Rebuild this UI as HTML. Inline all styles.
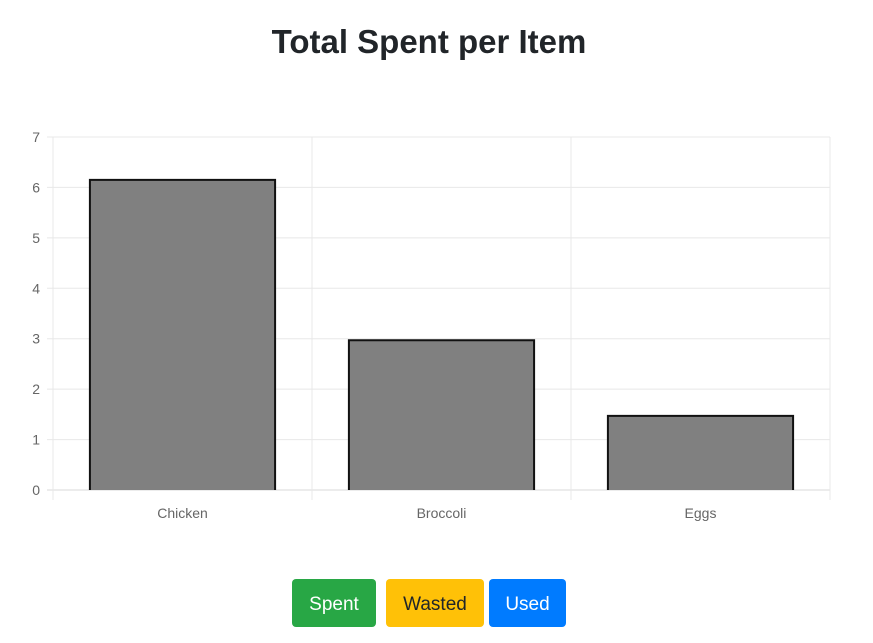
<!DOCTYPE html>
<html><head><meta charset="utf-8"><style>
body{margin:0;width:873px;height:643px;background:#fff;font-family:"Liberation Sans",sans-serif;overflow:hidden;position:relative}
h1{position:absolute;top:23px;left:0;width:858px;text-align:center;margin:0;font-size:33px;font-weight:600;color:#212529}
.btn{position:absolute;top:579px;height:48px;line-height:52px;border-radius:4px;font-size:19px;text-align:center;color:#fff}
</style></head><body>
<h1>Total Spent per Item</h1>
<svg id="c" width="873" height="560" style="position:absolute;left:0;top:0"></svg>
<div class="btn" style="left:292px;width:84px;background:#28a745">Spent</div>
<div class="btn" style="left:386px;width:98px;background:#ffc107;color:#212529">Wasted</div>
<div class="btn" style="left:489px;width:77px;background:#007bff">Used</div>
<script>
const categories=["Chicken","Broccoli","Eggs"];
const values=[6.15,2.97,1.47];
const yTicks=[0,1,2,3,4,5,6,7];
const svg=document.getElementById('c');
const NS='http://www.w3.org/2000/svg';
const x0=53,x1=830,y0=490,yTop=137,yMax=7;
const y=v=>y0-(v/yMax)*(y0-yTop);
const bw=(x1-x0)/categories.length;
function mk(t,a,txt){const e=document.createElementNS(NS,t);for(const k in a)e.setAttribute(k,a[k]);if(txt!==undefined)e.textContent=txt;svg.appendChild(e);return e;}
yTicks.forEach(t=>{
const l=mk('line',{x1:47,x2:x1,y1:y(t),y2:y(t),stroke:t===0?'#d8d8d8':'#e8e8e8','stroke-width':1});


const tx=mk('text',{x:40,y:y(t)+5,'text-anchor':'end','font-size':14,fill:'#666'},t);


});
for(let i=0;i<=categories.length;i++){
const l=mk('line',{x1:x0+i*bw,x2:x0+i*bw,y1:yTop,y2:500,stroke:'#e8e8e8','stroke-width':1});


}
categories.forEach((c,i)=>{
const cx=x0+bw*(i+0.5),w=bw*0.715;
const top=y(values[i]);
const r=mk('rect',{x:cx-w/2,y:top,width:w,height:y0-top,fill:'#808080'});


const p=mk('path',{d:`M${cx-w/2},${y0}V${top}H${cx+w/2}V${y0}`,fill:'none',stroke:'#111','stroke-width':2});


const t=mk('text',{x:cx,y:518,'text-anchor':'middle','font-size':14,fill:'#666'},c);


});
</script>
</body></html>
